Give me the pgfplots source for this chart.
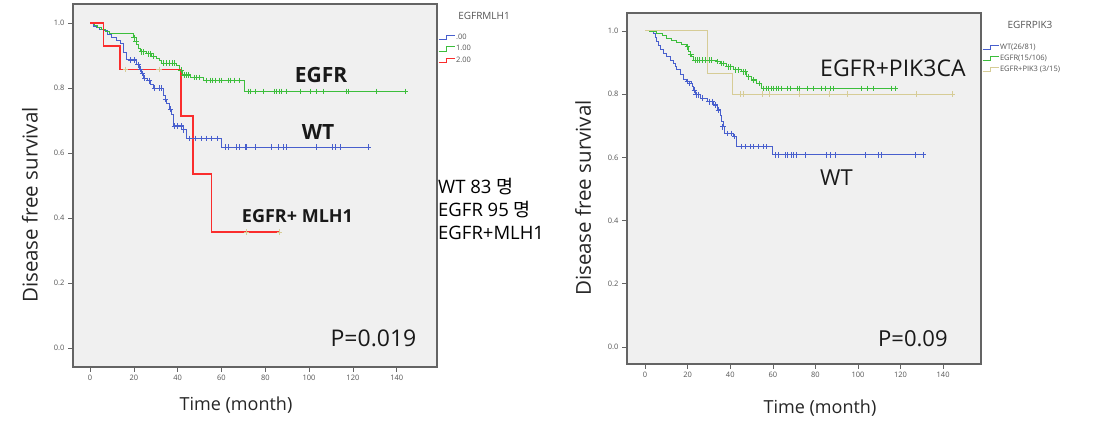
\documentclass[border=0pt]{standalone}
\usepackage{pgfplots}
\pgfplotsset{compat=1.18}
\usepackage{fontspec}
\setmainfont{Open Sans}
\newfontfamily\kr{Noto Sans CJK KR}
\definecolor{bluec}{RGB}{72,95,205}
\definecolor{greenc}{RGB}{60,190,60}
\definecolor{redc}{RGB}{250,45,45}
\definecolor{tanc}{RGB}{214,204,150}
\definecolor{bgc}{RGB}{240,240,240}
\definecolor{framec}{RGB}{100,100,100}
\definecolor{tickc}{RGB}{85,85,85}
\pgfplotsset{
  km/.style={
    scale only axis,
    axis background/.style={fill=bgc},
    axis line style={framec, line width=1.2pt},
    tick style={framec, line width=0.6pt},
    tick align=outside,
    tick pos=left,
    major tick length=5pt,
    xtick={0,20,...,140},
    ytick={0,0.2,0.4,0.6,0.8,1.0},
    yticklabel style={/pgf/number format/.cd, fixed, fixed zerofill, precision=1},
    ticklabel style={font=\fontsize{7.5}{8}\selectfont, text=tickc},
    /pgf/number format/assume math mode=true,
    legend cell align=left,
    legend image code/.code={\draw[##1, line width=0.8pt] (0pt,-2.2pt) -- (8pt,-2.2pt) -- (8pt,2.2pt) -- (16pt,2.2pt);},
    legend style={draw=none, fill=none, inner sep=0pt, anchor=north west,
      font=\fontsize{7.5}{8}\selectfont, text=tickc,
      nodes={inner sep=1pt, text height=5pt, text depth=1pt}, row sep=3.3pt},
    cens/.style={only marks, mark=+, mark size=2.8pt, line width=0.75pt, forget plot},
  }
}
\begin{document}
\begin{tikzpicture}[x=1pt,y=1pt]
\fill[white] (0,0) rectangle (1102,422);
\path[use as bounding box] (0,0) rectangle (1102,422);
% ---------------- left chart ----------------
\begin{axis}[km, at={(73pt,55pt)}, anchor=south west, width=364pt, height=363pt,
  xmin=-7.8, xmax=158.4, ymin=-0.058, ymax=1.058,
  legend style={at={(axis description cs:1.003,0.919)}}]
\addplot[const plot, bluec, line width=1pt] coordinates {
(0,1)(1.5,0.99)(3,0.985)(4.5,0.98)(6.1,0.975)(8,0.965)(10,0.955)(12,0.946)(13.7,0.937)(15.2,0.91)(16.7,0.886)(21.4,0.871)(22.5,0.858)(23.5,0.844)(24.4,0.83)(26,0.822)(27.5,0.81)(29,0.799)(33.6,0.778)(34.3,0.765)(35.1,0.752)(36.3,0.735)(37.4,0.717)(38.1,0.683)(42.6,0.671)(44.1,0.645)(60,0.618)(127.2,0.618)};
\addlegendentry{.00}
\addplot[const plot, greenc, line width=1pt] coordinates {
(0,1.0)(2,0.993)(3.5,0.986)(5,0.979)(7,0.972)(9,0.966)(19.8,0.955)(20.5,0.944)(21.2,0.933)(22,0.922)(22.8,0.911)(25.8,0.905)(28,0.898)(30.4,0.891)(31.5,0.884)(32.6,0.876)(39.4,0.868)(40.9,0.855)(42.4,0.840)(46,0.832)(51.6,0.823)(70.6,0.789)(144.6,0.789)};
\addlegendentry{1.00}
\addplot[const plot, redc, line width=1.7pt] coordinates {
(0,1)(6.1,0.929)(13.7,0.857)(41.6,0.714)(47,0.536)(55.4,0.357)(86.4,0.357)};
\addlegendentry{2.00}
\addplot[cens, bluec] coordinates {
(18.5,0.886)(20,0.886)(22,0.871)(23,0.858)(24,0.844)(25,0.83)(27,0.822)(29.5,0.799)(31.5,0.799)(32.5,0.799)(34.5,0.765)(36.8,0.735)(38.5,0.683)(40,0.683)(41.5,0.683)(42.8,0.671)(45.5,0.645)(47.9,0.645)(51,0.645)(53.3,0.645)(55.6,0.645)(57.9,0.645)(61.6,0.618)(63.2,0.618)(67,0.618)(68,0.618)(70.8,0.618)(71.5,0.618)(75.3,0.618)(83,0.618)(86,0.618)(88.3,0.618)(89.8,0.618)(103.5,0.618)(110.4,0.618)(111.9,0.618)(114.2,0.618)(127.1,0.618)};
\addplot[cens, greenc] coordinates {
(20.0,0.955)(21,0.944)(23.5,0.911)(24.5,0.911)(26.5,0.905)(27.5,0.905)(29,0.898)(33.5,0.876)(35,0.876)(36,0.876)(37.5,0.876)(38.5,0.876)(41.5,0.855)(43,0.840)(44,0.840)(45,0.840)(47.5,0.832)(48.5,0.832)(50,0.832)(53,0.823)(55,0.823)(56,0.823)(57,0.823)(59,0.823)(60,0.823)(63,0.823)(64,0.823)(66,0.823)(68,0.823)(72.3,0.789)(73,0.789)(75.3,0.789)(79.1,0.789)(84,0.789)(85.2,0.789)(86.5,0.789)(87.5,0.789)(89.8,0.789)(95.9,0.789)(100.5,0.789)(103.5,0.789)(106.5,0.789)(117.2,0.789)(118,0.789)(130.9,0.789)(143.8,0.789)};
\addplot[cens, tanc] coordinates {(16.2,0.857)(31.5,0.857)(71.5,0.357)(86.4,0.357)};
\end{axis}
% ---------------- right chart ----------------
\begin{axis}[km, at={(627pt,58pt)}, anchor=south west, width=354pt, height=351pt,
  xmin=-8.5, xmax=157.8, ymin=-0.054, ymax=1.057,
  legend style={at={(axis description cs:1.003,0.914)}, row sep=3pt}]
\addplot[const plot, bluec, line width=1pt] coordinates {
(0,1)(3.9,0.993)(4.7,0.98)(5.5,0.966)(6.2,0.953)(7,0.94)(8.5,0.93)(10.2,0.919)(11.8,0.908)(13.3,0.898)(14.1,0.888)(14.9,0.877)(16.4,0.861)(18,0.845)(19.6,0.840)(22,0.834)(22.4,0.823)(22.8,0.813)(23.6,0.798)(25.9,0.787)(29.1,0.776)(32.2,0.766)(33.8,0.750)(35.3,0.734)(36.1,0.715)(36.9,0.697)(37.5,0.676)(41.5,0.666)(43.1,0.634)(59.8,0.608)(131.5,0.608)};
\addlegendentry{WT(26/81)}
\addplot[const plot, greenc, line width=1pt] coordinates {
(0,1)(2,0.997)(5.5,0.993)(8,0.985)(10.2,0.977)(12.5,0.97)(14.9,0.963)(17,0.957)(19.6,0.95)(20.4,0.934)(21.2,0.926)(22,0.919)(22.8,0.908)(33.7,0.903)(35.3,0.897)(38.4,0.887)(41.5,0.877)(45.4,0.871)(47.7,0.855)(50,0.845)(52.4,0.834)(54.8,0.818)(118.2,0.818)};
\addlegendentry{EGFR(15/106)}
\addplot[const plot, tanc, line width=1pt] coordinates {
(0,1)(29.4,0.867)(41.2,0.80)(144.8,0.80)};
\addlegendentry{EGFR+PIK3 (3/15)}
\addplot[cens, bluec] coordinates {
(20,0.84)(21,0.834)(23.2,0.813)(24,0.798)(25,0.798)(27,0.787)(30,0.776)(31.5,0.776)(33,0.766)(34.5,0.75)(36.5,0.697)(38.5,0.676)(40.5,0.676)(42,0.666)(45.4,0.634)(47,0.634)(49.3,0.634)(50.9,0.634)(53.2,0.634)(55.6,0.634)(57.1,0.634)(61,0.608)(62.6,0.608)(65.7,0.608)(67,0.608)(68.8,0.608)(69.6,0.608)(71.2,0.608)(75.1,0.608)(85.3,0.608)(86.9,0.608)(89.2,0.608)(103.3,0.608)(109.6,0.608)(111.1,0.608)(126.8,0.608)(130.7,0.608)};
\addplot[cens, greenc] coordinates {
(20,0.95)(21.5,0.926)(23.5,0.908)(24.5,0.908)(25.5,0.908)(27,0.908)(28.5,0.908)(30,0.908)(31,0.908)(34,0.903)(36,0.897)(37,0.897)(39,0.887)(40,0.887)(42.5,0.877)(44,0.877)(46,0.871)(47,0.871)(48.5,0.855)(51,0.845)(53.5,0.834)(55.6,0.818)(57,0.818)(58,0.818)(59.5,0.818)(60.3,0.818)(61.5,0.818)(62.7,0.818)(64.2,0.818)(66.6,0.818)(68.1,0.818)(71.5,0.818)(72.5,0.818)(76,0.818)(79.1,0.818)(83,0.818)(84.6,0.818)(86.9,0.818)(88.5,0.818)(101.8,0.818)(104.2,0.818)(107.3,0.818)(115.9,0.818)(117.5,0.818)};
\addplot[cens, tanc] coordinates {
(44.6,0.8)(46.2,0.8)(55.1,0.8)(58.3,0.8)(72.3,0.8)(86.4,0.8)(95,0.8)(127.2,0.8)(144.4,0.8)};
\end{axis}
% ---------------- labels ----------------
\node[rotate=90, font=\fontsize{20.5}{22}\selectfont, text=black!85] at (30,217) {Disease free survival};
\node[font=\fontsize{18}{20}\selectfont, text=black!85] at (236,17) {Time (month)};
\node[rotate=90, font=\fontsize{20.5}{22}\selectfont, text=black!85] at (583,224) {Disease free survival};
\node[font=\fontsize{18}{20}\selectfont, text=black!85] at (820,14) {Time (month)};
% legend titles
\node[font=\fontsize{10}{11}\selectfont, text=tickc] at (484,406) {EGFRMLH1};
\node[font=\fontsize{10}{11}\selectfont, text=tickc] at (1030,397) {EGFRPIK3};
% annotations left
\node[anchor=base, inner sep=0, font=\fontsize{21}{23}\selectfont\bfseries, text=black!90] at (321,339.3) {EGFR};
\node[anchor=base, inner sep=0, font=\fontsize{21}{23}\selectfont\bfseries, text=black!90] at (318,282) {WT};
\node[anchor=base, inner sep=0, font=\fontsize{18}{20}\selectfont\bfseries, text=black!90] at (297.5,199) {EGFR+ MLH1};
\node[anchor=base, inner sep=0, font=\fontsize{23}{25}\selectfont, text=black!90] at (373.5,75) {P=0.019};
% Korean block
\node[anchor=base west, inner sep=0, font=\fontsize{18.5}{20}\selectfont] at (438,228.7) {WT 83 {\kr 명}};
\node[anchor=base west, inner sep=0, font=\fontsize{18.5}{20}\selectfont] at (438,205.3) {EGFR 95 {\kr 명}};
\node[anchor=base west, inner sep=0, font=\fontsize{18.5}{20}\selectfont] at (438,182) {EGFR+MLH1};
% annotations right
\node[anchor=base west, inner sep=0, font=\fontsize{23}{25}\selectfont, text=black!90] at (820,345.3) {EGFR+PIK3CA};
\node[anchor=base west, inner sep=0, font=\fontsize{22}{24}\selectfont, text=black!90] at (820,236) {WT};
\node[anchor=base west, inner sep=0, font=\fontsize{22}{24}\selectfont, text=black!90] at (878,75) {P=0.09};
\end{tikzpicture}
\end{document}
